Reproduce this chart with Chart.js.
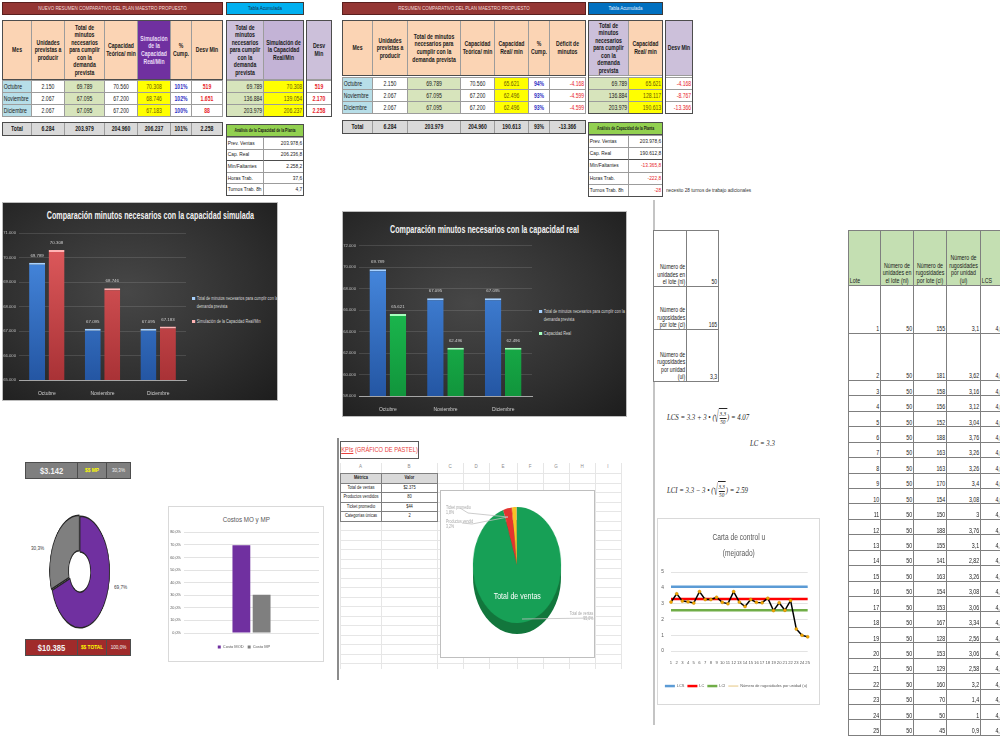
<!DOCTYPE html>
<html lang="es">
<head>
<meta charset="utf-8">
<title>Plan maestro, costos, KPIs y carta de control</title>
<script src="https://cdn.jsdelivr.net/npm/chart.js@4.4.1/dist/chart.umd.min.js"></script>
<style>
  html, body { margin: 0; padding: 0; background: #fff; }
  body { width: 1000px; height: 750px; position: relative; overflow: hidden;
         font-family: 'Liberation Sans', Arial, sans-serif; }
  .c { position: absolute; box-sizing: border-box; overflow: hidden; font-size: 6.4px; color: #1a1a1a;
       border: 1px solid #9c9c9c; background: #fff; }
  .t { position: absolute; left: 0; top: 0; height: 100%; box-sizing: border-box; display: flex;
       align-items: center; justify-content: center; text-align: center; line-height: 1.18;
       transform-origin: 0 0; padding: 0 1px; }
  .marco { position: absolute; box-sizing: border-box; border: 1.5px solid #4d4d4d; pointer-events: none; }
  .oscuro { position: absolute; overflow: hidden; border: 1px solid #bdbdbd;
            background: radial-gradient(ellipse at 45% 45%, #474747 0%, #2f2f2f 60%, #1d1d1d 100%); }
  .titOscuro { position: absolute; left: 0; width: 100%; text-align: center; color: #f2f2f2;
               font-weight: bold; font-size: 10.5px; white-space: nowrap; transform: scaleX(0.68); }
  .leyOscura { position: absolute; color: #d9d9d9; font-size: 4.8px; line-height: 1.6; padding-left: 6px;
               transform: scaleX(0.8); transform-origin: 0 0; }
  .leyOscura i { position: absolute; left: 0; top: 1.5px; width: 3.5px; height: 3.5px; }
  .caja { position: absolute; box-sizing: border-box; border: 1px solid #d9d9d9; background: #fff; }
  .abs { position: absolute; white-space: nowrap; }
  .k { display: inline-block; transform: scaleX(0.78); }
  .formula { position: absolute; display: flex; align-items: center; white-space: nowrap;
             font: italic 8px 'Liberation Serif', serif; color: #262626; transform: scaleX(0.85); transform-origin: 0 50%; }
  .frac { display: inline-flex; flex-direction: column; align-items: center; font-size: 6.2px; line-height: 1.1; }
  .frac span:first-child { border-bottom: 0.8px solid #262626; }
  .bajo { border-top: 0.8px solid #262626; padding: 0 1px; }
  .rad { font-size: 16px; font-style: normal; display: inline-block; transform: scaleX(0.55); margin: 0 -2px; }
</style>
</head>
<body>
<script>
// ---- datos del plan maestro ----
const meses = ['Octubre', 'Noviembre', 'Diciembre'];
const unidades = [2150, 2067, 2067];
const minNecesarios = [69789, 67095, 67095];
const capTeorica = [70560, 67200, 67200];
const capSimulada = [70308, 68746, 67183];
const cumpSimulada = [101, 102, 100];
const desvSimulada = [519, 1651, 88];
const acumNecesarios = [69789, 136884, 203979];
const acumSimulada = [70308, 139054, 206237];
const acumDesvSimulada = [519, 2170, 2258];
const capReal = [65621, 62496, 62496];
const cumpReal = [94, 93, 93];
const deficitReal = [-4168, -4599, -4599];
const acumReal = [65621, 128117, 190613];
const acumDeficitReal = [-4168, -8767, -13366];
const totalesSimulada = ['Total', '6.284', '203.979', '204.960', '206.237', '101%', '2.258'];
const totalesReal = ['Total', '6.284', '203.979', '204.960', '190.613', '93%', '-13.366'];
const analisisEtiquetas = ['Prev. Ventas', 'Cap. Real', 'Min/Faltantes', 'Horas Trab.', 'Turnos Trab. 8h'];
const analisisSimulada = ['203.978,6', '206.236,8', '2.258,2', '37,6', '4,7'];
const analisisReal = ['203.978,6', '190.612,8', '-13.365,8', '-222,8', '-28'];

// ---- ejes de los graficos de barras ----
const ticksSimulada = { min: 65000, max: 71000, paso: 1000 };
const ticksReal = { min: 58000, max: 72000, paso: 2000 };

// ---- costos ----
const costosEtiquetas = ['Costo MOD', 'Costo MP'];
const costosPct = [69.7, 30.3];
const costoMP = '$3.142';
const costoTotal = '$10.385';

// ---- KPIs (pastel) ----
const kpiMetricas = ['Total de ventas', 'Productos vendidos', 'Ticket promedio', 'Categorías únicas'];
const kpiValores = [2375, 80, 44, 2];
const kpiTexto = ['$2.375', '80', '$44', '2'];

// ---- carta de control u ----
const lotes = ['1','2','3','4','5','6','7','8','9','10','11','12','13','14','15','16','17','18','19','20','21','22','23','24','25'];
const unidadesLote = [50,50,50,50,50,50,50,50,50,50,50,50,50,50,50,50,50,50,50,50,50,50,50,50,50];
const rugosidadesLote = [155,181,158,156,152,188,163,163,170,154,150,188,155,141,163,154,153,167,128,153,129,160,70,50,45];
const rugosidadesUnidad = [3.1,3.62,3.16,3.12,3.04,3.76,3.26,3.26,3.4,3.08,3,3.76,3.1,2.82,3.26,3.08,3.06,3.34,2.56,3.06,2.58,3.2,1.4,1,0.9];
const lcsSerie = [4.07,4.07,4.07,4.07,4.07,4.07,4.07,4.07,4.07,4.07,4.07,4.07,4.07,4.07,4.07,4.07,4.07,4.07,4.07,4.07,4.07,4.07,4.07,4.07,4.07];
const lcSerie = [3.3,3.3,3.3,3.3,3.3,3.3,3.3,3.3,3.3,3.3,3.3,3.3,3.3,3.3,3.3,3.3,3.3,3.3,3.3,3.3,3.3,3.3,3.3,3.3,3.3];
const lciSerie = [2.59,2.59,2.59,2.59,2.59,2.59,2.59,2.59,2.59,2.59,2.59,2.59,2.59,2.59,2.59,2.59,2.59,2.59,2.59,2.59,2.59,2.59,2.59,2.59,2.59];
const resumenLote = { n: 50, c: 165, u: 3.3, lcs: 4.07, lci: 2.59 };

// ---------------------------------------------------------------
const fmtMiles = n => (n < 0 ? '-' : '') + String(Math.abs(n)).replace(/\B(?=(\d{3})+(?!\d))/g, '.');
const fmtComa = n => String(n).replace('.', ',');
const K = 0.8; // texto estrecho, como la fuente de la hoja original

function celda(x, y, w, h, texto, est) {
  est = Object.assign({}, est || {});
  const k = est.k || K;
  delete est.k;
  const d = document.createElement('div');
  d.className = 'c';
  Object.assign(d.style, { left: x + 'px', top: y + 'px', width: (w + 1) + 'px', height: (h + 1) + 'px' });
  Object.assign(d.style, est);
  const t = document.createElement('div');
  t.className = 't';
  t.style.width = ((w - 1) / k) + 'px';
  t.style.transform = `scaleX(${k})`;
  ['justifyContent', 'alignItems', 'textAlign', 'paddingLeft', 'paddingRight', 'whiteSpace'].forEach(p => {
    if (est[p]) { t.style[p] = est[p]; d.style[p] = ''; }
  });
  t.innerHTML = texto;
  d.appendChild(t);
  document.body.appendChild(d);
  return d;
}
function marco(x, y, w, h) {
  const d = document.createElement('div');
  d.className = 'marco';
  Object.assign(d.style, { left: x + 'px', top: y + 'px', width: (w + 1) + 'px', height: (h + 1) + 'px' });
  document.body.appendChild(d);
}
function capa(clase, x, y, w, h, html, est) {
  const d = document.createElement('div');
  d.className = clase;
  Object.assign(d.style, { left: x + 'px', top: y + 'px' });
  if (w != null) d.style.width = w + 'px';
  if (h != null) d.style.height = h + 'px';
  if (est) Object.assign(d.style, est);
  if (html) d.innerHTML = html;
  document.body.appendChild(d);
  return d;
}
const estrecho = (html, origen) => `<span class="k" style="transform-origin:${origen || '0 0'}">${html}</span>`;

const DER = { justifyContent: 'flex-end', textAlign: 'right', paddingRight: '1px' };
const IZQ = { justifyContent: 'flex-start', textAlign: 'left', paddingLeft: '1px' };

// ---- tablas resumen ----
function tablaResumen(t) {
  celda(t.tx, 2, t.tw, 12, t.titulo, { background: '#943634', color: '#f3dede', fontSize: '5.6px', border: '1.5px solid #5a1f1e' });
  celda(t.acum[0], 2, t.acum[2] - t.acum[0], 12, 'Tabla Acumulada',
        { background: t.colorAcum, color: t.txtAcum, fontSize: '5.6px', border: '1.5px solid #3a3a3a' });

  t.columnas.forEach((col, i) => {
    const x = t.cols[i], w = t.cols[i + 1] - t.cols[i];
    celda(x, 20, w, t.altoEnc, col.enc, Object.assign({ background: '#fbd4b4', fontWeight: 'bold' }, col.estEnc || {}));
    col.datos.forEach((v, r) => celda(x, t.yFilas + r * 12, w, 12, v, col.est || {}));
    celda(x, t.yTotal, w, 13, t.totales[i], { background: '#d9d9d9', fontWeight: 'bold' });
  });
  marco(t.cols[0], 20, t.cols[t.cols.length - 1] - t.cols[0], t.altoEnc);
  marco(t.cols[0], t.yTotal, t.cols[t.cols.length - 1] - t.cols[0], 13);

  t.acumuladas.forEach((col, i) => {
    const x = t.acum[i], w = t.acum[i + 1] - t.acum[i];
    celda(x, 20, w, t.altoEnc, col.enc, Object.assign({ background: '#ccc0da', fontWeight: 'bold' }, col.estEnc || {}));
    col.datos.forEach((v, r) => celda(x, t.yFilas + r * 12, w, 12, v, col.est));
  });
  marco(t.acum[0], 20, t.acum[2] - t.acum[0], t.yFilas - 20 + 36);

  celda(t.desv[0], 20, t.desv[1], t.altoEnc, 'Desv Min', { background: '#ccc0da', fontWeight: 'bold' });
  t.desvDatos.forEach((v, r) => celda(t.desv[0], t.yFilas + r * 12, t.desv[1], 12, v,
        Object.assign({ color: '#e8252b', fontWeight: t.desvNegrita ? 'bold' : 'normal' }, t.desvNegrita ? {} : DER)));
  marco(t.desv[0], 20, t.desv[1], t.yFilas - 20 + 36);

  // analisis de la capacidad
  const ax = t.acum[0], am = t.acum[1], aw = t.acum[2];
  celda(ax, t.yAnalisis, aw - ax, 12, t.tituloAnalisis,
        { background: '#92d050', fontWeight: 'bold', fontSize: '5.8px', whiteSpace: 'nowrap', k: 0.6, border: '1.5px solid #4d4d4d' });
  analisisEtiquetas.forEach((et, i) => {
    const y = t.yAnalisis + 13 + i * t.altoAnalisis;
    const linea = i === 2 ? '1.5px solid #4d4d4d' : '';
    celda(ax, y, am - ax, t.altoAnalisis, et, Object.assign({}, IZQ, { fontSize: '6px', whiteSpace: 'nowrap', borderTop: linea }));
    celda(am, y, aw - am, t.altoAnalisis, t.analisis[i],
          Object.assign({}, DER, { fontSize: '6px', color: t.analisisRojo[i] ? '#e8252b' : '#1a1a1a', borderTop: linea }));
  });
  marco(ax, t.yAnalisis, aw - ax, 13 + 5 * t.altoAnalisis);
}

const pct = v => v + '%';
const EST_MES = Object.assign({ background: '#b7dee8' }, IZQ);
const EST_VERDE = { background: '#d7e4bc' };
const EST_AMARILLO = { background: '#ffff00', color: '#6b5a00' };
const EST_PCT = { color: '#2f2fc4', fontWeight: 'bold' };

tablaResumen({
  tx: 2, tw: 220, titulo: 'NUEVO RESUMEN COMPARATIVO DEL PLAN MAESTRO PROPUESTO',
  colorAcum: '#00b0f0', txtAcum: '#0d2d4d',
  cols: [2, 31, 64, 104, 137, 170, 191, 222], altoEnc: 59, yFilas: 80, yTotal: 122,
  columnas: [
    { enc: 'Mes', datos: meses, est: EST_MES },
    { enc: 'Unidades previstas a producir', datos: unidades.map(fmtMiles) },
    { enc: 'Total de minutos necesarios para cumplir con la demanda prevista', datos: minNecesarios.map(fmtMiles), est: EST_VERDE },
    { enc: 'Capacidad Teórica/ min', datos: capTeorica.map(fmtMiles) },
    { enc: 'Simulación de la Capacidad Real/Min', datos: capSimulada.map(fmtMiles), est: EST_AMARILLO,
      estEnc: { background: '#7030a0', color: '#eadcf7' } },
    { enc: '% Cump.', datos: cumpSimulada.map(pct), est: EST_PCT },
    { enc: 'Desv Min', datos: desvSimulada.map(fmtMiles), est: { color: '#e8252b', fontWeight: 'bold' } }
  ],
  totales: totalesSimulada,
  acum: [226, 263, 303],
  acumuladas: [
    { enc: 'Total de minutos necesarios para cumplir con la demanda prevista', datos: acumNecesarios.map(fmtMiles), est: Object.assign({}, EST_VERDE, DER) },
    { enc: 'Simulación de la Capacidad Real/Min', datos: acumSimulada.map(fmtMiles), est: Object.assign({}, EST_AMARILLO, DER),
      estEnc: { background: '#c3b3d6' } }
  ],
  desv: [306, 25], desvDatos: acumDesvSimulada.map(fmtMiles), desvNegrita: true,
  yAnalisis: 124, altoAnalisis: 11.6, tituloAnalisis: 'Análisis de la Capacidad de la Planta',
  analisis: analisisSimulada, analisisRojo: [false, false, false, false, false]
});

tablaResumen({
  tx: 342, tw: 243, titulo: 'RESUMEN COMPARATIVO DEL PLAN MAESTRO PROPUESTO',
  colorAcum: '#0070c0', txtAcum: '#e8f2ff',
  cols: [342, 372, 407, 460, 494, 528, 549, 585], altoEnc: 55, yFilas: 77, yTotal: 120,
  columnas: [
    { enc: 'Mes', datos: meses, est: EST_MES },
    { enc: 'Unidades previstas a producir', datos: unidades.map(fmtMiles) },
    { enc: 'Total de minutos necesarios para cumplir con la demanda prevista', datos: minNecesarios.map(fmtMiles), est: EST_VERDE },
    { enc: 'Capacidad Teórica/ min', datos: capTeorica.map(fmtMiles) },
    { enc: 'Capacidad Real/ min', datos: capReal.map(fmtMiles), est: EST_AMARILLO },
    { enc: '% Cump.', datos: cumpReal.map(pct), est: EST_PCT },
    { enc: 'Déficit de minutos', datos: deficitReal.map(fmtMiles), est: Object.assign({ color: '#e8252b' }, DER) }
  ],
  totales: totalesReal,
  acum: [588, 628, 662],
  acumuladas: [
    { enc: 'Total de minutos necesarios para cumplir con la demanda prevista', datos: acumNecesarios.map(fmtMiles), est: Object.assign({}, EST_VERDE, DER) },
    { enc: 'Capacidad Real/ min', datos: acumReal.map(fmtMiles), est: Object.assign({}, EST_AMARILLO, DER),
      estEnc: { background: '#fbd4b4' } }
  ],
  desv: [665, 27], desvDatos: acumDeficitReal.map(fmtMiles), desvNegrita: false,
  yAnalisis: 122, altoAnalisis: 12.2, tituloAnalisis: 'Análisis de Capacidad de la Planta',
  analisis: analisisReal, analisisRojo: [false, false, true, true, true]
});
capa('abs', 666, 187, null, null, estrecho('necesito 28 turnos de trabajo adicionales'), { fontSize: '6px', color: '#333' });

// ---- configuracion general Chart.js ----
Chart.defaults.font.family = "'Liberation Sans', Arial, sans-serif";
Chart.defaults.animation = false;
Chart.defaults.responsive = false;
Chart.defaults.devicePixelRatio = 1;
Chart.defaults.plugins.tooltip.enabled = false;

function lienzo(padre, x, y, w, h, est) {
  const cv = document.createElement('canvas');
  cv.width = w; cv.height = h;
  Object.assign(cv.style, { position: 'absolute', left: x + 'px', top: y + 'px' });
  if (est) Object.assign(cv.style, est);
  padre.appendChild(cv);
  return cv;
}

// etiquetas de valor sobre las barras
const etiquetasBarras = {
  id: 'etiquetasBarras',
  afterDatasetsDraw(chart, args, opts) {
    const ctx = chart.ctx;
    ctx.save();
    ctx.font = (opts.size || 5) + 'px ' + Chart.defaults.font.family;
    ctx.fillStyle = opts.color || '#d9d9d9';
    ctx.textAlign = 'center';
    ctx.textBaseline = 'bottom';
    chart.data.datasets.forEach((ds, i) => {
      chart.getDatasetMeta(i).data.forEach((bar, j) => ctx.fillText(fmtMiles(ds.data[j]), bar.x, bar.y - 5));
    });
    ctx.restore();
  }
};

function degradado(arriba, abajo) {
  return ctx => {
    const area = ctx.chart.chartArea;
    if (!area) return arriba;
    const g = ctx.chart.ctx.createLinearGradient(0, area.top, 0, area.bottom);
    g.addColorStop(0, arriba);
    g.addColorStop(1, abajo);
    return g;
  };
}

function graficoOscuro(g) {
  const caja = capa('oscuro', g.x, g.y, g.w, g.h);
  const tit = document.createElement('div');
  tit.className = 'titOscuro';
  tit.style.top = g.tituloY + 'px';
  tit.textContent = g.titulo;
  caja.appendChild(tit);
  g.series.forEach((s, i) => {
    const it = document.createElement('div');
    it.className = 'leyOscura';
    Object.assign(it.style, { left: g.ley[0] + 'px', top: g.ley[1][i] + 'px', width: (g.ley[2] / 0.8) + 'px' });
    it.innerHTML = `<i style="background:${s.tope}"></i>${s.label}`;
    caja.appendChild(it);
  });
  const cv = lienzo(caja, 0, g.cv[0], g.cv[1], g.cv[2]);
  new Chart(cv, {
    type: 'bar',
    data: {
      labels: meses,
      datasets: g.series.map(s => ({
        label: s.label, data: s.data,
        backgroundColor: degradado(s.arriba, s.abajo),
        borderColor: s.tope, borderWidth: { top: 2, left: 0, right: 0, bottom: 0 },
        categoryPercentage: 0.7, barPercentage: 0.82
      }))
    },
    options: {
      layout: { padding: g.pad },
      plugins: { legend: { display: false }, etiquetasBarras: { color: '#d0d0d0', size: 4.4 } },
      scales: {
        x: { grid: { display: false }, border: { color: '#a6a6a6' },
             ticks: { color: '#d0d0d0', font: { size: 5 }, padding: 3 } },
        y: { min: g.ejes.min, max: g.ejes.max, afterFit: s => { s.width = g.anchoY; },
             grid: { color: 'rgba(255,255,255,0.12)', drawTicks: false }, border: { display: false },
             ticks: { stepSize: g.ejes.paso, color: '#bfbfbf', font: { size: 4.2 }, padding: 3, callback: v => fmtMiles(v) } }
      }
    },
    plugins: [etiquetasBarras]
  });
}

graficoOscuro({
  x: 2, y: 202, w: 274, h: 197, tituloY: 6,
  titulo: 'Comparación minutos necesarios con la capacidad simulada',
  cv: [22, 188, 175], pad: { top: 8, right: 5, bottom: 0, left: 0 }, anchoY: 16, ejes: ticksSimulada,
  ley: [189, [92, 115], 84],
  series: [
    { label: 'Total de minutos necesarios para cumplir con la demanda prevista', data: minNecesarios,
      arriba: '#4b8fe6', abajo: '#2456a3', tope: '#a8d2ff' },
    { label: 'Simulación de la Capacidad Real/Min', data: capSimulada,
      arriba: '#e25d5f', abajo: '#a93236', tope: '#ffb4b4' }
  ]
});

graficoOscuro({
  x: 342, y: 211, w: 283, h: 204, tituloY: 11,
  titulo: 'Comparación minutos necesarios con la capacidad real',
  cv: [28, 194, 176], pad: { top: 5, right: 5, bottom: 0, left: 0 }, anchoY: 16, ejes: ticksReal,
  ley: [196, [96, 118], 84],
  series: [
    { label: 'Total de minutos necesarios para cumplir con la demanda prevista', data: minNecesarios,
      arriba: '#4b8fe6', abajo: '#2456a3', tope: '#a8d2ff' },
    { label: 'Capacidad Real', data: capReal,
      arriba: '#22d05a', abajo: '#11953c', tope: '#a6ffbd' }
  ]
});

// ---- costos MO y MP ----
const EST_GRIS = { background: '#7f7f7f', color: '#f2f2f2', border: '1.5px solid #4d4d4d' };
const EST_ROJO = { background: '#a02b2b', color: '#f2f2f2', border: '1.5px solid #4d4d4d' };
celda(25, 462, 52, 16, costoMP, Object.assign({ fontSize: '9.5px', fontWeight: 'bold' }, EST_GRIS));
celda(77, 462, 29, 16, '$$ MP', Object.assign({}, EST_GRIS, { fontSize: '6px', fontWeight: 'bold', color: '#ffff00' }));
celda(106, 462, 24, 16, fmtComa(costosPct[1]) + '%', Object.assign({ fontSize: '5.8px' }, EST_GRIS));
celda(25, 639, 52, 16, costoTotal, Object.assign({ fontSize: '9.5px', fontWeight: 'bold' }, EST_ROJO));
celda(77, 639, 29, 16, '$$ TOTAL', Object.assign({}, EST_ROJO, { fontSize: '6px', fontWeight: 'bold', color: '#ffff00' }));
celda(106, 639, 24, 16, '100,0%', Object.assign({ fontSize: '5.8px' }, EST_ROJO));

const cvDona = lienzo(document.body, 20, 512, 120, 120, { transform: 'scaleX(0.53)', transformOrigin: '50% 50%' });
new Chart(cvDona, {
  type: 'doughnut',
  data: { labels: costosEtiquetas, datasets: [{ data: costosPct, backgroundColor: ['#7030a0', '#7f7f7f'],
          borderColor: '#262626', borderWidth: 1.5, offset: [0, 7] }] },
  options: { cutout: '36%', plugins: { legend: { display: false } } }
});
capa('abs', 31, 545, null, null, estrecho(fmtComa(costosPct[1]) + '%'), { fontSize: '6px', color: '#404040' });
capa('abs', 114, 584, null, null, estrecho(fmtComa(costosPct[0]) + '%'), { fontSize: '6px', color: '#404040' });

const cajaCostos = capa('caja', 168, 506, 156, 156);
capa('abs', 168, 515, 156, null, estrecho('Costos MO y MP', '50% 0'), { textAlign: 'center', fontSize: '8px', color: '#595959' });
new Chart(lienzo(cajaCostos, 0, 20, 154, 134), {
  type: 'bar',
  data: { labels: [''], datasets: costosEtiquetas.map((et, i) => ({
    label: et, data: [costosPct[i]], backgroundColor: ['#7030a0', '#7f7f7f'][i],
    categoryPercentage: 0.3, barPercentage: 0.88 })) },
  options: {
    layout: { padding: { top: 4, right: 4, left: 0, bottom: 2 } },
    plugins: { legend: { position: 'bottom', labels: { boxWidth: 3, boxHeight: 3, padding: 4, color: '#595959', font: { size: 4 } } } },
    scales: {
      x: { grid: { display: false }, border: { display: false }, ticks: { display: false } },
      y: { min: 0, max: 80, border: { display: false }, grid: { color: '#e3e3e3', drawTicks: false },
           afterFit: s => { s.width = 15; },
           ticks: { stepSize: 10, padding: 3, color: '#595959', font: { size: 3.8 }, callback: v => v.toFixed(1).replace('.', ',') + '%' } }
    }
  }
});

// ---- KPIs: hoja con grafico de pastel ----
capa('abs', 337, 438, 2, 242, '', { background: '#8c8c8c' });
const colsHoja = [340, 381, 437, 463, 489, 517, 543, 569, 595, 621];
const letras = ['A', 'B', 'C', 'D', 'E', 'F', 'G', 'H', 'I'];
for (let y = 473; y <= 668; y += 9.5) capa('abs', 340, y, 281, 1, '', { background: '#e6e6e6' });
colsHoja.forEach(x => capa('abs', x, 463, 1, 206, '', { background: '#e6e6e6' }));
letras.forEach((l, i) => capa('abs', colsHoja[i], 464, colsHoja[i + 1] - colsHoja[i], null, l,
  { textAlign: 'center', fontSize: '4.5px', color: '#8c8c8c' }));
celda(340, 441, 78, 17, '<span><u>KPIs</u> (GRÁFICO DE PASTEL)</span>',
  { color: '#e8413c', fontSize: '7.2px', whiteSpace: 'nowrap', border: '1.5px solid #595959' });
const EST_KPI = { fontSize: '5px', borderColor: '#808080', whiteSpace: 'nowrap' };
celda(340, 473, 41, 9.5, 'Métrica', Object.assign({ background: '#d9d9d9', fontWeight: 'bold' }, EST_KPI));
celda(381, 473, 56, 9.5, 'Valor', Object.assign({ background: '#d9d9d9', fontWeight: 'bold' }, EST_KPI));
kpiMetricas.forEach((m, i) => {
  celda(340, 482.5 + i * 9.5, 41, 9.5, m, EST_KPI);
  celda(381, 482.5 + i * 9.5, 56, 9.5, kpiTexto[i], EST_KPI);
});
capa('caja', 440, 490, 155, 168, '', { borderColor: '#bfbfbf' });
capa('abs', 473, 520, 88, 114, '', { background: '#12763c', borderRadius: '50%' });
const cvPastel = lienzo(document.body, 459, 507, 116, 116, { transform: 'scaleX(0.76)', transformOrigin: '50% 50%' });
new Chart(cvPastel, {
  type: 'pie',
  data: { labels: kpiMetricas, datasets: [{ data: kpiValores, borderWidth: 0,
          backgroundColor: ['#17a056', '#e3342f', '#f6c324', '#4472c4'] }] },
  options: { plugins: { legend: { display: false } } }
});
const totalKpi = kpiValores.reduce((a, b) => a + b, 0);
const pctKpi = i => (kpiValores[i] / totalKpi * 100).toFixed(1).replace('.', ',') + '%';
capa('abs', 477, 591, 80, null, estrecho(kpiMetricas[0], '50% 0'), { textAlign: 'center', color: '#ffffff', fontSize: '9px' });
const estLey = { fontSize: '4.5px', color: '#a6a6a6', lineHeight: '1.15' };
capa('abs', 446, 505, null, null, estrecho(kpiMetricas[2] + '<br>' + pctKpi(2)), estLey);
capa('abs', 446, 519, null, null, estrecho('Productos vendid<br>' + pctKpi(1)), estLey);
capa('abs', 560, 611, 33, null, estrecho(kpiMetricas[0] + '<br>' + pctKpi(0), '100% 0'), Object.assign({ textAlign: 'right' }, estLey));
capa('abs', 440, 490, 155, 168,
  '<svg width="155" height="168"><g stroke="#bfbfbf" stroke-width="0.8" fill="none">' +
  '<polyline points="20,18 28,23 68,27"/><polyline points="22,33 32,34 68,27"/>' +
  '<polyline points="82,129 153,128"/></g></svg>');

// ---- tabla de lotes pequena y formulas ----
capa('abs', 653, 200, 1.5, 525, '', { background: '#c4c4c4' });
const resumenFilas = [
  ['Número de<br>unidades en<br>el lote (ni)', resumenLote.n, 230, 56],
  ['Número de<br>rugosidades<br>por lote (ci)', resumenLote.c, 286, 43],
  ['Número de<br>rugosidades<br>por unidad<br>(ui)', fmtComa(resumenLote.u), 329, 52]
];
resumenFilas.forEach(f => {
  celda(653, f[2], 33, f[3], f[0], { justifyContent: 'flex-end', alignItems: 'flex-end', textAlign: 'right', paddingRight: '1px', borderColor: '#7f7f7f' });
  celda(686, f[2], 32, f[3], String(f[1]), { justifyContent: 'flex-end', alignItems: 'flex-end', paddingRight: '1px', borderColor: '#7f7f7f' });
});

function raiz() {
  return `<span class="rad">√</span><span class="bajo"><span class="frac"><span>${resumenLote.u}</span><span>${resumenLote.n}</span></span></span>`;
}
capa('formula', 667, 405, null, 24, `LCS = ${resumenLote.u} + 3 • (${raiz()}) = ${resumenLote.lcs}`);
capa('formula', 750, 438, null, 10, `LC = ${resumenLote.u}`);
capa('formula', 667, 478, null, 24, `LCI = ${resumenLote.u} − 3 • (${raiz()}) = ${resumenLote.lci}`);

// ---- carta de control u ----
const cajaCarta = capa('caja', 657, 518, 163, 187);
capa('abs', 657, 530, 163, null, estrecho('Carta de control u<br>(mejorado)', '50% 0'),
  { textAlign: 'center', fontSize: '8.5px', lineHeight: '1.85', color: '#595959' });
new Chart(lienzo(cajaCarta, 0, 0, 161, 185), {
  type: 'line',
  data: {
    labels: lotes,
    datasets: [
      { label: 'LCS', data: lcsSerie, borderColor: '#5b9bd5', borderWidth: 2.5, pointRadius: 0, order: 1 },
      { label: 'LC', data: lcSerie, borderColor: '#ff0000', borderWidth: 2.5, pointRadius: 0, order: 1 },
      { label: 'LCI', data: lciSerie, borderColor: '#70ad47', borderWidth: 2.5, pointRadius: 0, order: 1 },
      { label: 'Número de rugosidades por unidad (u)', data: rugosidadesUnidad, borderColor: '#000000', borderWidth: 1.5,
        pointRadius: 1.5, pointBackgroundColor: '#f5a800', pointBorderColor: '#c98a00', pointBorderWidth: 0.5, order: 0 }
    ]
  },
  options: {
    layout: { padding: { left: 0, right: 5, top: 53, bottom: 6 } },
    plugins: {
      legend: { position: 'bottom', labels: { usePointStyle: true, pointStyle: 'line', pointStyleWidth: 10, boxHeight: 3,
                padding: 3, color: '#595959', font: { size: 3.9 }, sort: (a, b) => a.datasetIndex - b.datasetIndex } }
    },
    scales: {
      x: { grid: { display: false, drawTicks: false }, border: { display: false }, afterFit: s => { s.height = 30; },
           ticks: { autoSkip: false, maxRotation: 0, minRotation: 0, color: '#595959', font: { size: 4.2 }, padding: 9 } },
      y: { min: 0, max: 5, border: { display: false }, grid: { color: '#e3e3e3', drawTicks: false },
           afterFit: s => { s.width = 13; },
           ticks: { stepSize: 1, color: '#595959', font: { size: 4.8 }, padding: 7 } }
    }
  }
});

// ---- tabla de lotes ----
const colsLote = [848, 880, 913, 946, 980, 1013];
const ESTL = { justifyContent: 'flex-end', alignItems: 'flex-end', paddingRight: '1px', borderColor: '#7f7f7f', fontSize: '6.6px' };
['Lote', 'Número de unidades en el lote (ni)', 'Número de rugosidades por lote (ci)', 'Número de rugosidades por unidad (ui)', 'LCS']
  .forEach((t, i) => celda(colsLote[i], 230, colsLote[i + 1] - colsLote[i], 55, t,
    Object.assign({}, ESTL, { background: '#c4dfb2', justifyContent: i === 0 || i === 4 ? 'flex-start' : 'center', paddingLeft: '1px' })));
const altosLote = [48, 47];
let yLote = 285;
lotes.forEach((l, r) => {
  const h = r < 2 ? altosLote[r] : 15.43;
  const fila = [l, unidadesLote[r], rugosidadesLote[r], fmtComa(rugosidadesUnidad[r]), fmtComa(lcsSerie[r])];
  fila.forEach((v, i) => celda(colsLote[i], yLote, colsLote[i + 1] - colsLote[i], h, String(v),
    i === 4 ? Object.assign({}, ESTL, { justifyContent: 'flex-start', paddingLeft: '18px' }) : ESTL));
  yLote += h;
});
</script>
</body>
</html>
